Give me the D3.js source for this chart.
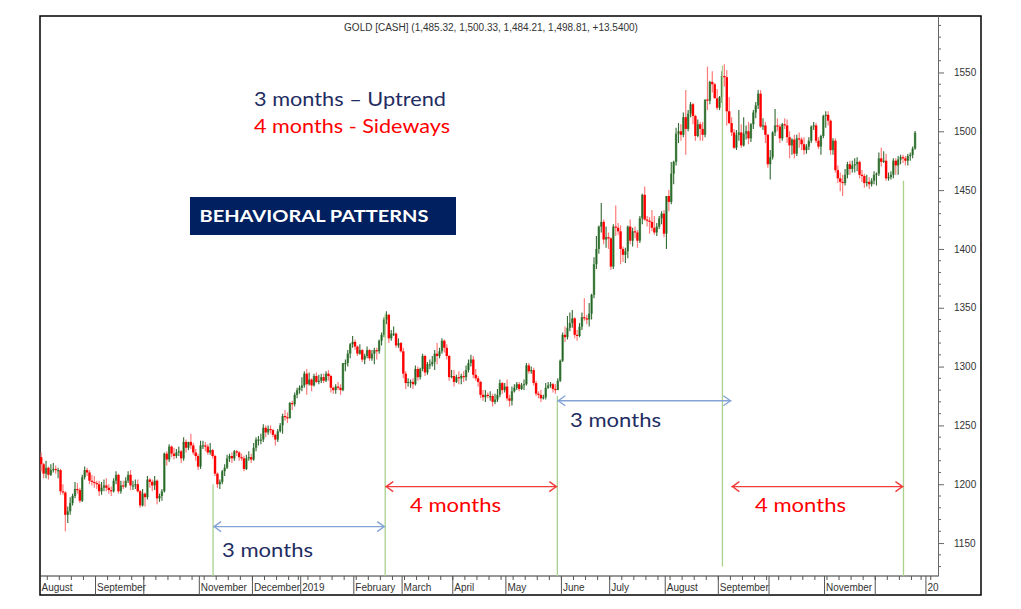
<!DOCTYPE html>
<html><head><meta charset="utf-8">
<script src="https://cdn.jsdelivr.net/npm/d3@7"></script>
<style>
html,body{margin:0;padding:0;background:#fff;}
svg{display:block;}
</style></head><body>
<svg id="chart" width="1021" height="609"></svg>
<script>
// ---------- data ----------
const titleText = "GOLD [CASH] (1,485.32, 1,500.33, 1,484.21, 1,498.81, +13.5400)";
const firstDay = "2018-08-01";
const lastAxisDay = "2020-01-10";
const holidays = ["2018-12-25","2019-01-01","2019-12-25","2020-01-01"];

const openP = [
// Aug 2018
1223,1217,1209,1214,1208,1212,1213,1212,1212,1194,1193,1174,1177,1184,1190,1196,1195,1186,1206,1212,1210,1203,1202,
// Sep
1201,1200,1194,1197,1199,1197,1195,1194,1203,1208,1194,1199,1198,1203,1208,1199,1199,1200,1194,1182,
// Oct
1192,1189,1204,1202,1199,1203,1188,1190,1194,1226,1221,1232,1226,1224,1227,1228,1222,1236,1231,1236,1233,1227,1224,
// Nov
1215,1233,1233,1232,1227,1229,1224,1209,1200,1202,1211,1214,1222,1224,1222,1228,1227,1223,1222,1213,1222,1223,
// Dec
1221,1231,1238,1238,1238,1248,1244,1247,1246,1242,1238,1245,1250,1258,1257,1256,1269,1268,1276,1280,
// Jan 2019
1282,1284,1294,1285,1289,1284,1292,1287,1288,1291,1288,1294,1292,1282,1280,1283,1282,1280,1303,1303,1311,1319,
// Feb
1321,1317,1311,1314,1306,1309,1314,1307,1311,1314,1313,1322,1327,1340,1344,1324,1328,1328,1318,1320,
// Mar
1313,1294,1286,1287,1287,1285,1298,1291,1298,1309,1295,1302,1302,1304,1311,1309,1313,1322,1316,1309,1291,
// Apr
1292,1287,1291,1290,1292,1291,1297,1303,1306,1293,1290,1287,1276,1274,1276,1275,1275,1270,1272,1276,1286,1280,
// May
1283,1273,1271,1279,1282,1285,1281,1284,1285,1301,1296,1297,1286,1277,1276,1273,1274,1282,1284,1285,1281,1280,1288,
// Jun
1305,1327,1325,1333,1337,1341,1327,1326,1334,1342,1341,1340,1345,1361,1387,1400,1419,1423,1408,1410,
// Jul
1409,1385,1419,1418,1415,1400,1395,1398,1419,1407,1415,1414,1407,1426,1446,1425,1424,1423,1418,1414,1419,1426,1430,
// Aug
1413,1445,1440,1464,1474,1498,1500,1497,1512,1502,1515,1523,1513,1496,1506,1502,1497,1527,1526,1542,1540,1528,
// Sep
1520,1529,1547,1546,1517,1507,1499,1486,1497,1499,1488,1498,1500,1494,1506,1516,1522,1532,1504,1505,1497,
// Oct
1472,1478,1499,1505,1504,1494,1506,1505,1495,1488,1493,1481,1494,1493,1489,1484,1487,1492,1504,1505,1492,1487,1496,
// Nov
1513,1514,1509,1484,1492,1467,1460,1457,1456,1463,1472,1468,1471,1472,1474,1463,1462,1456,1457,1455,1458,
// Dec
1463,1464,1477,1474,1475,1460,1461,1463,1475,1471,1476,1478,1477,1475,1479,1480,1485.32
];
const highP = [
1227,1218,1220,1215,1217,1218,1216,1214,1213,1200,1194,1181,1189,1192,1202,1201,1197,1208,1215,1214,1212,1208,1207,
1203,1203,1202,1204,1205,1200,1198,1205,1211,1209,1203,1203,1206,1211,1212,1203,1204,1204,1195,1196,
1193,1207,1205,1204,1207,1204,1192,1196,1227,1228,1234,1233,1231,1230,1232,1229,1240,1238,1236,1243,1235,1230,1226,
1237,1237,1236,1234,1235,1230,1225,1210,1204,1212,1217,1225,1226,1227,1229,1229,1228,1226,1224,1225,1228,1226,
1235,1240,1241,1243,1251,1250,1250,1250,1247,1243,1247,1252,1260,1263,1261,1270,1271,1278,1282,1284,
1291,1296,1298,1295,1290,1294,1295,1293,1294,1294,1296,1297,1293,1283,1285,1287,1285,1303,1306,1314,1320,1326,
1323,1318,1319,1315,1311,1317,1315,1314,1316,1316,1323,1329,1342,1347,1345,1331,1334,1329,1324,1321,
1316,1296,1290,1289,1290,1301,1300,1299,1311,1310,1304,1306,1309,1314,1320,1316,1324,1323,1319,1310,1297,
1297,1293,1296,1294,1296,1301,1306,1310,1309,1298,1292,1288,1280,1280,1278,1279,1277,1277,1281,1289,1287,1286,
1289,1276,1283,1285,1287,1287,1286,1289,1303,1303,1300,1299,1288,1279,1280,1276,1286,1287,1287,1286,1285,1290,1306,
1329,1334,1343,1346,1348,1342,1331,1337,1346,1358,1344,1354,1362,1393,1411,1420,1439,1425,1419,1414,
1410,1421,1437,1422,1420,1402,1401,1420,1425,1418,1419,1416,1428,1447,1453,1428,1427,1433,1428,1422,1428,1432,1433,
1445,1450,1474,1475,1503,1507,1506,1516,1535,1518,1525,1524,1514,1510,1508,1508,1527,1555,1543,1551,1541,1536,
1530,1551,1557,1552,1529,1512,1502,1501,1518,1506,1512,1505,1508,1507,1518,1525,1535,1535,1511,1508,1498,
1484,1500,1519,1511,1506,1507,1511,1510,1500,1494,1497,1497,1499,1495,1495,1489,1495,1505,1508,1507,1495,1497,1514,
1517,1517,1510,1494,1494,1471,1465,1463,1468,1474,1475,1475,1477,1478,1475,1467,1464,1463,1461,1460,1466,
1465,1482,1486,1483,1481,1465,1466,1477,1477,1479,1480,1480,1479,1481,1482,1487,1500.33
];
const lowP = [
1211,1205,1205,1204,1207,1210,1209,1205,1191,1191,1160,1167,1174,1182,1188,1192,1184,1185,1204,1207,1200,1199,1197,
1196,1190,1191,1194,1194,1192,1190,1193,1200,1192,1192,1196,1197,1201,1195,1195,1196,1193,1180,1181,
1181,1187,1197,1194,1195,1183,1185,1186,1193,1216,1219,1223,1221,1222,1224,1218,1220,1227,1229,1230,1225,1220,1212,
1213,1230,1228,1225,1225,1222,1207,1197,1196,1200,1207,1213,1219,1218,1220,1224,1220,1220,1211,1212,1220,1218,
1220,1228,1233,1234,1236,1240,1242,1243,1240,1233,1236,1244,1243,1254,1252,1256,1263,1266,1273,1277,
1279,1282,1276,1284,1279,1283,1286,1285,1286,1286,1287,1288,1278,1277,1277,1280,1276,1279,1296,1300,1307,1316,
1314,1309,1310,1304,1302,1307,1305,1305,1302,1306,1311,1318,1325,1336,1320,1322,1326,1316,1316,1312,
1290,1281,1283,1282,1281,1284,1288,1289,1296,1292,1293,1298,1300,1297,1302,1307,1311,1312,1306,1288,1290,
1283,1286,1285,1285,1287,1288,1295,1300,1290,1288,1283,1273,1271,1270,1273,1271,1266,1268,1270,1274,1277,1278,
1271,1266,1267,1278,1280,1279,1280,1280,1284,1294,1294,1284,1275,1273,1270,1272,1272,1281,1282,1278,1277,1280,1287,
1304,1321,1323,1330,1333,1324,1322,1325,1331,1339,1336,1334,1340,1358,1383,1396,1414,1404,1401,1400,
1382,1383,1411,1412,1387,1389,1388,1392,1404,1402,1409,1401,1405,1421,1424,1419,1413,1415,1412,1411,1417,1421,1410,
1400,1432,1438,1455,1471,1490,1492,1495,1480,1500,1512,1506,1492,1495,1492,1492,1495,1518,1523,1533,1529,1518,
1518,1524,1538,1505,1506,1496,1485,1484,1492,1486,1487,1493,1489,1491,1502,1511,1519,1503,1501,1490,1469,
1459,1476,1496,1500,1490,1492,1502,1490,1477,1480,1477,1479,1486,1484,1480,1481,1484,1490,1501,1490,1485,1480,1494,
1503,1505,1480,1480,1465,1456,1449,1445,1454,1460,1463,1465,1465,1466,1460,1457,1452,1453,1451,1453,1455,
1454,1462,1470,1473,1458,1458,1459,1460,1463,1463,1472,1473,1471,1471,1475,1477,1484.21
];
const closeP = [
1217,1209,1214,1208,1212,1213,1212,1212,1194,1193,1174,1177,1184,1190,1196,1195,1186,1206,1212,1210,1203,1202,1201,
1200,1194,1197,1199,1197,1195,1194,1203,1208,1194,1199,1198,1203,1208,1199,1199,1200,1194,1182,1192,
1189,1204,1202,1199,1203,1188,1190,1194,1226,1221,1232,1226,1224,1227,1228,1222,1236,1231,1236,1233,1227,1224,1215,
1233,1233,1232,1227,1229,1224,1209,1200,1202,1211,1214,1222,1224,1222,1228,1227,1223,1222,1213,1222,1223,1221,
1231,1238,1238,1238,1248,1244,1247,1246,1242,1238,1245,1250,1258,1257,1256,1269,1268,1276,1280,1282,
1284,1294,1285,1289,1284,1292,1287,1288,1291,1288,1294,1292,1282,1280,1283,1282,1280,1303,1303,1311,1319,1321,
1317,1311,1314,1306,1309,1314,1307,1311,1314,1313,1322,1327,1340,1344,1324,1328,1328,1318,1320,1313,
1294,1286,1287,1287,1285,1298,1291,1298,1309,1295,1302,1302,1304,1311,1309,1313,1322,1316,1309,1291,1292,
1287,1291,1290,1292,1291,1297,1303,1306,1293,1290,1287,1276,1274,1276,1275,1275,1270,1272,1276,1286,1280,1283,
1273,1271,1279,1282,1285,1281,1284,1285,1301,1296,1297,1286,1277,1276,1273,1274,1282,1284,1285,1281,1280,1288,1305,
1327,1325,1333,1337,1341,1327,1326,1334,1342,1341,1340,1345,1361,1387,1400,1419,1423,1408,1410,1409,
1385,1419,1418,1415,1400,1395,1398,1419,1407,1415,1414,1407,1426,1446,1425,1424,1423,1418,1414,1419,1426,1430,1413,
1445,1440,1464,1474,1498,1500,1497,1512,1502,1515,1523,1513,1496,1506,1502,1497,1527,1526,1542,1540,1528,1520,
1529,1547,1546,1517,1507,1499,1486,1497,1499,1488,1498,1500,1494,1506,1516,1522,1532,1504,1505,1497,1472,
1478,1499,1505,1504,1494,1506,1505,1495,1488,1493,1481,1494,1493,1489,1484,1487,1492,1504,1505,1492,1487,1496,1513,
1514,1509,1484,1492,1467,1460,1457,1456,1463,1472,1468,1471,1472,1474,1463,1462,1456,1457,1455,1458,1463,
1464,1477,1474,1475,1460,1461,1463,1475,1471,1476,1478,1477,1475,1479,1480,1485.27,1498.81
];

const monthLabels = ["August","September","","November","December","2019","February","March","April","May","June","July","August","September","","November","","20"];
const priceTicks = [1150,1200,1250,1300,1350,1400,1450,1500,1550];
const priceDomain = [1122, 1598];
const dayDomain = [-0.5, 371.5];

// annotation data (trading-day positions / price levels)
const markerDays = [71.2, 142.5, 213.8, 282.2, 357.2];
const markerTops = [1200, 1345, 1275, 1556, 1458];
const markerBottoms = [1122, 1122, 1122, 1130, 1122];
const spanFrom = [71.2, 142.5, 213.8, 285.9];
const spanTo = [142.5, 213.8, 285.9, 357.2];
const spanLevel = [1164, 1198, 1271, 1198];
const spanText = ["3 months","4 months","3 months","4 months"];
const spanKind = ["up","side","up","side"];
const legendLines = ["3 months \u2013 Uptrend","4 months - Sideways"];
const boxText = "BEHAVIORAL PATTERNS";

// ---------- chart ----------
const svg = d3.select("#chart");
const L = 40, R = 938, T = 16, B = 576;
const x = d3.scaleLinear().domain(dayDomain).range([L, R]);
const y = d3.scaleLinear().domain(priceDomain).range([B, T]);

const parse = d3.utcParse("%Y-%m-%d"), fmt = d3.utcFormat("%Y-%m-%d");
const days = d3.utcDay.range(parse(firstDay), parse(lastAxisDay))
  .filter(d => d.getUTCDay() % 6 !== 0 && !holidays.includes(fmt(d)));

const n = Math.min(openP.length, highP.length, lowP.length, closeP.length);
const data = d3.range(n).map(i => ({i, o: openP[i], h: highP[i], l: lowP[i], c: closeP[i]}));

// outer frame
svg.append("rect").attr("x", 40).attr("y", 16).attr("width", 941).attr("height", 579)
  .attr("fill", "#fff").attr("stroke", "#000").attr("stroke-width", 1.5);

// title
svg.append("text").attr("x", 491).attr("y", 31).attr("text-anchor", "middle")
  .attr("font-family", "Liberation Sans, Arial, sans-serif").attr("font-size", 10)
  .attr("fill", "#333").text(titleText);

// right price axis
const yAxis = d3.axisRight(y).tickValues(priceTicks).tickFormat(d3.format("d"))
  .tickSize(6).tickSizeOuter(0).tickPadding(10);
const ya = svg.append("g").attr("transform", `translate(${R},0)`).call(yAxis);
ya.select(".domain").attr("stroke", "#666");
ya.selectAll(".tick line").attr("stroke", "#666");
ya.selectAll(".tick text").attr("font-family", "Liberation Sans, Arial, sans-serif")
  .attr("font-size", 10).attr("fill", "#333");
const minor = d3.range(1130, 1600, 10).filter(v => !priceTicks.includes(v));
svg.append("g").selectAll("line").data(minor).join("line")
  .attr("x1", R).attr("x2", R + 3).attr("y1", d => y(d)).attr("y2", d => y(d))
  .attr("stroke", "#666");

// bottom time axis
svg.append("line").attr("x1", L).attr("x2", R).attr("y1", B).attr("y2", B).attr("stroke", "#333");
const monthStarts = days.map((d, i) => i).filter(i => i === 0 || days[i].getUTCMonth() !== days[i - 1].getUTCMonth());
const weekTicks = days.map((d, i) => i).filter(i => days[i].getUTCDay() === 1 && x(i - 0.5) <= R);
svg.append("g").selectAll("line").data(weekTicks).join("line")
  .attr("x1", i => x(i - 0.5)).attr("x2", i => x(i - 0.5)).attr("y1", B).attr("y2", B + 4)
  .attr("stroke", "#555");
svg.append("g").selectAll("text").data(monthStarts).join("text")
  .attr("x", i => x(i - 0.5) + 1.5).attr("y", 591)
  .attr("font-family", "Liberation Sans, Arial, sans-serif").attr("font-size", 10).attr("fill", "#333")
  .text((i, k) => monthLabels[k] || "");
svg.append("g").selectAll("line").data(monthStarts.filter(i => i > 0)).join("line")
  .attr("x1", i => x(i - 0.5)).attr("x2", i => x(i - 0.5)).attr("y1", B).attr("y2", 595)
  .attr("stroke", "#555");

// candles
const cg = svg.append("g");
const bw = 2.4;
data.forEach(d => {
  const up = d.c >= d.o;
  if (!up) {
    cg.append("line").attr("x1", x(d.i)).attr("x2", x(d.i)).attr("y1", y(d.h)).attr("y2", y(d.l))
      .attr("stroke", "#ff7a7a").attr("stroke-width", 1.2);
  }
  const top = y(Math.max(d.o, d.c)), bot = y(Math.min(d.o, d.c));
  cg.append("rect").attr("x", x(d.i) - bw / 2).attr("width", bw)
    .attr("y", top).attr("height", Math.max(1.2, bot - top))
    .attr("fill", up ? "#5e995e" : "#ff0000");
  if (up) {
    cg.append("line").attr("x1", x(d.i)).attr("x2", x(d.i)).attr("y1", y(d.h)).attr("y2", y(d.l))
      .attr("stroke", "#1d5a1d").attr("stroke-width", 1.1).attr("opacity", 0.9);
  }
});

// marker lines
svg.append("g").selectAll("line").data(markerDays).join("line")
  .attr("x1", d => x(d)).attr("x2", d => x(d))
  .attr("y1", (d, k) => y(markerTops[k])).attr("y2", (d, k) => y(markerBottoms[k]))
  .attr("stroke", "#a9d18e").attr("stroke-width", 1.3);

// span arrows
const font = "Lato, 'Open Sans', sans-serif";
spanFrom.forEach((f, k) => {
  const col = spanKind[k] === "up" ? "#85a4d6" : "#f03c3c";
  const x1 = x(f), x2 = x(spanTo[k]), yy = y(spanLevel[k]);
  const g = svg.append("g").attr("fill", "none").attr("stroke", col).attr("stroke-width", 1.4);
  g.append("line").attr("x1", x1).attr("x2", x2).attr("y1", yy).attr("y2", yy);
  g.append("path").attr("d", `M${x1 + 8},${yy - 5}L${x1 + 1},${yy}L${x1 + 8},${yy + 5}`);
  g.append("path").attr("d", `M${x2 - 8},${yy - 5}L${x2 - 1},${yy}L${x2 - 8},${yy + 5}`);
});
const labelPos = [[222, 557], [410, 512], [570, 427], [755, 512]];
spanText.forEach((t, k) => {
  svg.append("text").attr("x", labelPos[k][0]).attr("y", labelPos[k][1])
    .attr("font-family", font).attr("font-size", 20)
    .attr("fill", spanKind[k] === "up" ? "#1f2d62" : "#ff0000")
    .attr("textLength", 91).attr("lengthAdjust", "spacingAndGlyphs").text(t);
});

// legend text
svg.append("text").attr("x", 254).attr("y", 106).attr("font-family", font).attr("font-size", 20)
  .attr("fill", "#1f2d62").attr("textLength", 192).attr("lengthAdjust", "spacingAndGlyphs").text(legendLines[0]);
svg.append("text").attr("x", 254).attr("y", 133).attr("font-family", font).attr("font-size", 20)
  .attr("fill", "#ff0000").attr("textLength", 196).attr("lengthAdjust", "spacingAndGlyphs").text(legendLines[1]);

// box
svg.append("rect").attr("x", 190).attr("y", 197).attr("width", 266).attr("height", 38).attr("fill", "#002060");
svg.append("text").attr("x", 199.5).attr("y", 222).attr("font-family", font).attr("font-weight", "bold")
  .attr("font-size", 17.5).attr("fill", "#fff").attr("textLength", 229).attr("lengthAdjust", "spacingAndGlyphs")
  .text(boxText);
</script>
</body></html>
